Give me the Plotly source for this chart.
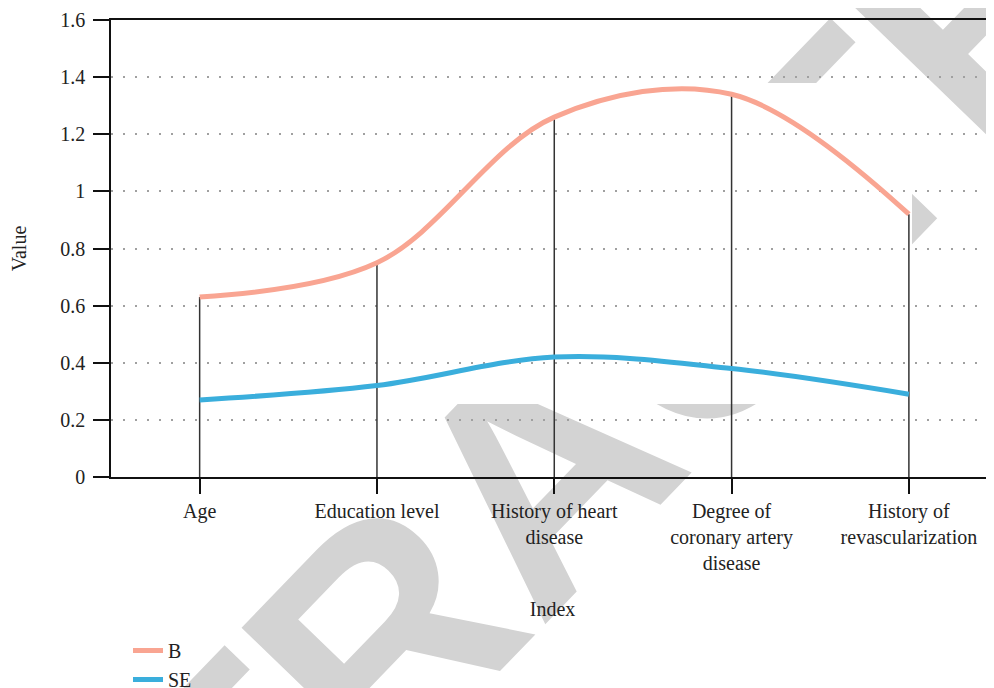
import plotly.graph_objects as go

# ---- data ----
categories = ["Age", "Education level", "History of heart<br>disease",
              "Degree of<br>coronary artery<br>disease", "History of<br>revascularization"]
b_values = [0.63, 0.75, 1.26, 1.34, 0.92]
se_values = [0.27, 0.32, 0.42, 0.38, 0.29]
y_tick_values = [0, 0.2, 0.4, 0.6, 0.8, 1.0, 1.2, 1.4, 1.6]
y_tick_labels = ["0", "0.2", "0.4", "0.6", "0.8", "1", "1.2", "1.4", "1.6"]
series_names = ["B", "SE"]

SERIF = "Liberation Serif, Times New Roman, serif"
OFF = 8                      # page body margin
W, H = 994 - OFF, 688 - OFF
ML, MR, MT, MB = 111 - OFF, 0, 20 - OFF, 688 - 477
PW, PH = W - ML - MR, H - MT - MB


def page_to_paper(px, py):
    """page pixel -> paper coords"""
    fx, fy = px - OFF, py - OFF
    return (fx - ML) / PW, (H - MB - fy) / PH


fig = go.Figure()

# drop lines from B points to the axis
fig.add_trace(go.Scatter(
    x=categories, y=b_values, mode="markers",
    marker=dict(size=1, opacity=0),
    error_y=dict(type="data", symmetric=False, array=[0] * len(b_values),
                 arrayminus=b_values, width=0, thickness=1.5, color="#333333"),
    showlegend=False, hoverinfo="skip"))

fig.add_trace(go.Scatter(
    x=categories, y=b_values, name=series_names[0], mode="lines",
    line=dict(shape="spline", smoothing=1, width=5, color="#f9a592")))

fig.add_trace(go.Scatter(
    x=categories, y=se_values, name=series_names[1], mode="lines",
    line=dict(shape="spline", smoothing=1, width=5, color="#3aaedc")))

# watermark (background decoration)
cx, cy = page_to_paper(519, 452)
wx0, wy1 = page_to_paper(0, 83)
wx1, wy0 = page_to_paper(912, 404)
shapes = [
    dict(type="rect", xref="paper", yref="paper", layer="below",
         x0=cx - 0.004, x1=cx + 0.004, y0=cy - 0.004, y1=cy + 0.004,
         line=dict(width=0), fillcolor="rgba(0,0,0,0)",
         label=dict(text="RETRACTED", textangle=-46, textposition="middle center",
                    font=dict(family="Liberation Sans, Arial, sans-serif", size=314,
                              color="#d3d3d3", weight="bold"))),
    dict(type="rect", xref="paper", yref="paper", layer="below",
         x0=wx0, x1=wx1, y0=wy0, y1=wy1,
         line=dict(width=0), fillcolor="white"),
]

lx, ly = page_to_paper(128, 631)

fig.update_layout(
    width=W, height=H,
    margin=dict(l=ML, r=MR, t=MT, b=MB, autoexpand=False),
    paper_bgcolor="white", plot_bgcolor="white",
    font=dict(family=SERIF, size=20, color="#222222"),
    shapes=shapes,
    showlegend=True,
    legend=dict(x=lx, y=ly, xanchor="left", yanchor="top", orientation="v",
                bgcolor="rgba(0,0,0,0)", font=dict(family=SERIF, size=20, color="#222222"),
                tracegroupgap=0),
    xaxis=dict(type="category", range=[-0.5, 4.48], showgrid=False, zeroline=False,
               showline=True, linecolor="#111111", linewidth=2, mirror=True,
               ticks="outside", ticklen=15, tickwidth=2, tickcolor="#111111",
               tickfont=dict(family=SERIF, size=20, color="#222222"),
               title=dict(text="Index", standoff=29,
                          font=dict(family=SERIF, size=20, color="#222222")),
               automargin=False),
    yaxis=dict(range=[0, 1.6], tickvals=y_tick_values, ticktext=y_tick_labels,
               showgrid=True, gridcolor="#a0a0a0", gridwidth=2, griddash="2px,10px",
               zeroline=False, showline=True, linecolor="#111111", linewidth=1.5,
               ticks="outside", ticklen=16, tickwidth=2, tickcolor="#111111",
               ticklabelstandoff=4,
               tickfont=dict(family=SERIF, size=20, color="#222222"),
               title=dict(text="Value", standoff=30,
                          font=dict(family=SERIF, size=20, color="#222222")),
               automargin=False),
)

fig.write_html("out.html")
